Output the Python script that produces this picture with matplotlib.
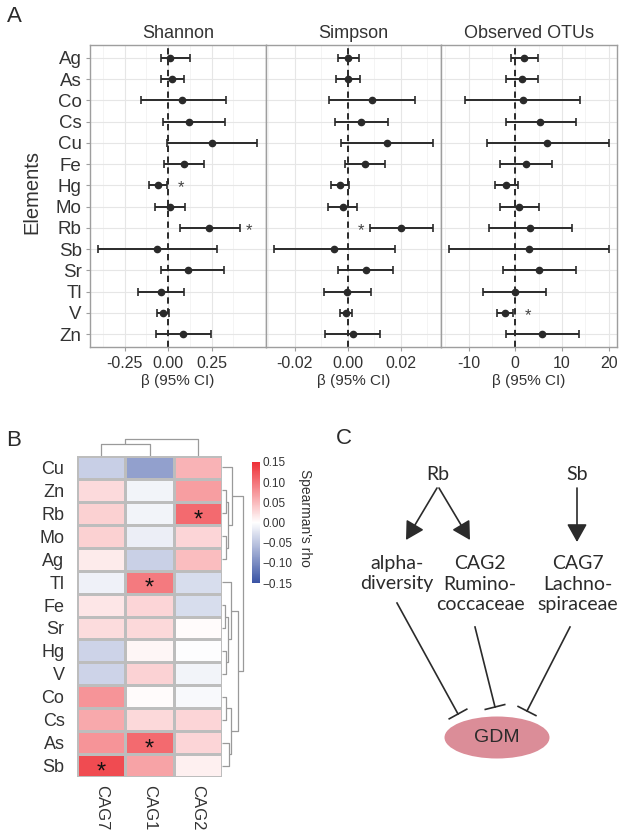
import numpy as np
import matplotlib
matplotlib.use('Agg')
import matplotlib.pyplot as plt
from matplotlib.colors import LinearSegmentedColormap
from matplotlib.patches import Ellipse

plt.rcParams['font.family'] = ['Liberation Sans', 'DejaVu Sans']

# ---------------- data: panel A (regression estimates) ----------------
elements = ['Ag', 'As', 'Co', 'Cs', 'Cu', 'Fe', 'Hg', 'Mo', 'Rb', 'Sb', 'Sr', 'Tl', 'V', 'Zn']

shannon_est = [0.010, 0.023, 0.082, 0.120, 0.254, 0.092, -0.059, 0.008, 0.237, -0.063, 0.114, -0.040, -0.029, 0.086]
shannon_lo = [-0.044, -0.044, -0.158, -0.032, -0.006, -0.023, -0.111, -0.074, 0.069, -0.406, -0.044, -0.172, -0.065, -0.073]
shannon_hi = [0.124, 0.090, 0.330, 0.326, 0.511, 0.206, -0.004, 0.095, 0.414, 0.280, 0.324, 0.092, 0.004, 0.244]

simpson_est = [0.0000, 0.0000, 0.0091, 0.0050, 0.0148, 0.0065, -0.0030, -0.0020, 0.0201, -0.0052, 0.0068, -0.0003, -0.0008, 0.0018]
simpson_lo = [-0.0038, -0.0043, -0.0072, -0.0050, -0.0025, -0.0011, -0.0063, -0.0074, 0.0083, -0.0280, -0.0036, -0.0090, -0.0030, -0.0088]
simpson_hi = [0.0042, 0.0047, 0.0255, 0.0152, 0.0323, 0.0142, 0.0003, 0.0036, 0.0320, 0.0179, 0.0172, 0.0086, 0.0015, 0.0123]

otus_est = [1.9, 1.4, 1.6, 5.4, 6.9, 2.3, -1.9, 0.9, 3.1, 2.9, 5.1, -0.1, -2.1, 5.7]
otus_lo = [-1.0, -1.9, -10.7, -2.0, -6.0, -3.3, -4.4, -3.3, -5.7, -14.2, -2.6, -6.8, -3.9, -2.0]
otus_hi = [4.9, 4.9, 13.9, 13.0, 20.0, 7.9, 0.6, 5.1, 12.1, 20.1, 13.0, 6.5, -0.5, 13.6]

# significance stars (element, x position)
shannon_stars = [('Hg', 0.076), ('Rb', 0.467)]
simpson_stars = [('Rb', 0.005)]
otus_stars = [('V', 2.7)]

# ---------------- data: panel B (Spearman heatmap) ----------------
heat_rows = ['Cu', 'Zn', 'Rb', 'Mo', 'Ag', 'Tl', 'Fe', 'Sr', 'Hg', 'V', 'Co', 'Cs', 'As', 'Sb']
heat_cols = ['CAG7', 'CAG1', 'CAG2']
rho = np.array([
    [-0.042, -0.083, 0.055],
    [0.026, -0.010, 0.070],
    [0.033, -0.010, 0.107],
    [0.033, -0.015, 0.030],
    [0.015, -0.040, 0.048],
    [-0.012, 0.095, -0.030],
    [0.018, 0.030, -0.030],
    [0.025, 0.027, 0.003],
    [-0.038, 0.007, -0.002],
    [-0.038, 0.032, -0.010],
    [0.077, 0.003, -0.005],
    [0.062, 0.027, 0.030],
    [0.077, 0.107, 0.030],
    [0.130, 0.066, 0.011],
])
heat_stars = [('Rb', 'CAG2'), ('Tl', 'CAG1'), ('As', 'CAG1'), ('Sb', 'CAG7')]

# dendrogram merges (left id, right id, height); leaves are in display order
row_merges = [(1, 2, 4), (3, 4, 4), (14, 15, 6), (0, 16, 10),
              (6, 7, 3), (8, 9, 4), (18, 19, 6), (5, 20, 9),
              (10, 11, 4), (12, 13, 7), (22, 23, 9),
              (21, 24, 16), (17, 25, 21)]
col_merges = [(0, 1, 12), (3, 2, 17)]

W, H = 620, 836
fig = plt.figure(figsize=(W / 100, H / 100), dpi=100)
txt = '#333333'
grey = '#9E9E9E'


def rect(x0, y0, x1, y1):
    return [x0 / W, 1 - y1 / H, (x1 - x0) / W, (y1 - y0) / H]


# background axes in pixel units for panel C and labels
axc = fig.add_axes([0, 0, 1, 1])
axc.set_xlim(0, W)
axc.set_ylim(H, 0)
axc.axis('off')

# ---------------- panel A ----------------
panels = [
    ('Shannon', shannon_est, shannon_lo, shannon_hi, shannon_stars, (-0.45, 0.56),
     [-0.25, 0, 0.25], ['-0.25', '0.00', '0.25'], [-0.375, -0.125, 0.125, 0.375]),
    ('Simpson', simpson_est, simpson_lo, simpson_hi, simpson_stars, (-0.0311, 0.0352),
     [-0.02, 0, 0.02], ['-0.02', '0.00', '0.02'], [-0.03, -0.01, 0.01, 0.03]),
    ('Observed OTUs', otus_est, otus_lo, otus_hi, otus_stars, (-15.9, 21.7),
     [-10, 0, 10, 20], ['-10', '0', '10', '20'], [-15, -5, 5, 15]),
]
lefts = [90, 265.5, 441]
ypos = np.arange(len(elements))
for i, (title, est, lo, hi, stars, xl, ticks, labels, minors) in enumerate(panels):
    ax = fig.add_axes(rect(lefts[i], 45, lefts[i] + 175.5, 347))
    est = np.array(est); lo = np.array(lo); hi = np.array(hi)
    ax.set_xlim(*xl)
    ax.set_ylim(len(elements) - 0.4, -0.6)
    ax.set_xticks(ticks)
    ax.set_xticklabels(labels)
    ax.set_xticks(minors, minor=True)
    ax.set_yticks(ypos)
    ax.set_yticklabels(elements)
    ax.grid(which='major', color='#E6E6E6', lw=0.8)
    ax.grid(which='minor', axis='x', color='#F0F0F0', lw=0.5)
    ax.set_axisbelow(True)
    ax.axvline(0, color='#1a1a1a', ls=(0, (3.5, 2.5)), lw=1.3, zorder=2)
    ax.errorbar(est, ypos, xerr=[est - lo, hi - est], fmt='o', color='#2a2a2a',
                ms=4.5, capsize=3, elinewidth=1.4, capthick=1.2, zorder=3)
    for el, sx in stars:
        ax.text(sx, elements.index(el) + 0.12, '*', ha='center', va='center',
                fontsize=12, color='#444444')
    for s in ax.spines.values():
        s.set_color(grey)
        s.set_linewidth(1.0)
    ax.tick_params(which='major', colors=grey, length=3, labelcolor=txt, labelsize=11.5)
    ax.tick_params(which='minor', length=0)
    ax.tick_params(axis='y', labelsize=13.5, pad=3)
    if i > 0:
        ax.tick_params(axis='y', left=False, labelleft=False)
    ax.set_title(title, fontsize=13, color=txt, pad=5)
    ax.set_xlabel('\u03b2 (95% CI)', fontsize=11, color=txt, labelpad=2)

fig.text(32 / W, 1 - 192 / H, 'Elements', rotation=90, ha='center', va='center',
         fontsize=14.5, color=txt)

# ---------------- panel B ----------------
cmap = LinearSegmentedColormap.from_list('bwr2', ['#3953A4', '#FFFFFF', '#EE2F36'])
axh = fig.add_axes(rect(77, 456, 222, 777))
mesh = axh.pcolormesh(np.arange(len(heat_cols) + 1), np.arange(len(heat_rows) + 1), rho,
                      cmap=cmap, vmin=-0.15, vmax=0.15, edgecolors='#BDBDBD', linewidth=0.8)
axh.set_xlim(0, len(heat_cols))
axh.set_ylim(len(heat_rows), 0)
axh.set_yticks(np.arange(len(heat_rows)) + 0.5)
axh.set_yticklabels(heat_rows)
axh.set_xticks(np.arange(len(heat_cols)) + 0.5)
axh.set_xticklabels(heat_cols, rotation=270)
axh.tick_params(length=0, labelsize=13, labelcolor=txt, pad=9)
axh.tick_params(axis='x', labelsize=12, pad=6)
for s in axh.spines.values():
    s.set_visible(False)
for r, c in heat_stars:
    axh.text(heat_cols.index(c) + 0.5, heat_rows.index(r) + 0.8, '*', ha='center', va='center',
             fontsize=17, color='#111111')


def dendro(ax, merges, n, horizontal):
    pos = {k: k + 0.5 for k in range(n)}
    hgt = {k: 0 for k in range(n)}
    for j, (a, b, h) in enumerate(merges):
        xs = [pos[a], pos[a], pos[b], pos[b]]
        hs = [hgt[a], h, h, hgt[b]]
        if horizontal:
            ax.plot(hs, xs, color='#9A9A9A', lw=0.9, solid_capstyle='butt')
        else:
            ax.plot(xs, hs, color='#9A9A9A', lw=0.9, solid_capstyle='butt')
        pos[n + j] = (pos[a] + pos[b]) / 2
        hgt[n + j] = h


axr = fig.add_axes(rect(222, 456, 245, 777))
dendro(axr, row_merges, len(heat_rows), True)
axr.set_xlim(0, 23)
axr.set_ylim(len(heat_rows), 0)
axr.axis('off')

axd = fig.add_axes(rect(77, 436, 222, 456))
dendro(axd, col_merges, len(heat_cols), False)
axd.set_xlim(0, len(heat_cols))
axd.set_ylim(0, 20)
axd.axis('off')

cax = fig.add_axes(rect(252, 462, 260, 583))
cb = fig.colorbar(mesh, cax=cax)
cb.outline.set_visible(False)
cb_ticks = [-0.15, -0.10, -0.05, 0.0, 0.05, 0.10, 0.15]
cb.set_ticks(cb_ticks)
cb.set_ticklabels([('%.2f' % t).replace('-', '\u2212') for t in cb_ticks])
cb.ax.tick_params(length=0, labelsize=8.5, labelcolor=txt, pad=2)
fig.text(305 / W, 1 - 518 / H, "Spearman's rho", rotation=270, ha='center', va='center',
         fontsize=10, color=txt)

# ---------------- panel C ----------------
dark = '#2b2b2b'
fc = ['Lato', 'DejaVu Sans']
axc.text(438, 475, 'Rb', ha='center', va='center', fontsize=14, color=dark, family=fc)
axc.text(577, 475, 'Sb', ha='center', va='center', fontsize=14, color=dark, family=fc)
arrows = [((437, 488), (406, 540)), ((439, 488), (470, 540)), ((577, 488), (577, 542))]
for start, tip in arrows:
    axc.annotate('', xy=tip, xytext=start,
                 arrowprops=dict(arrowstyle='-|>,head_length=0.5,head_width=0.28', color=dark,
                                 lw=1.2, mutation_scale=22, shrinkA=0, shrinkB=0))
nodes = [(397, 'alpha-\ndiversity'), (480, 'CAG2\nRumino-\ncoccaceae'), (578, 'CAG7\nLachno-\nspiraceae')]
for x, s in nodes:
    axc.text(x, 555, s, ha='center', va='top', fontsize=14, color=dark, family=fc,
             linespacing=1.25)

inhib = [((397, 603), (458, 714)), ((475, 627), (495, 707)), ((570, 627), (527, 711))]
for (x0, y0), (x1, y1) in inhib:
    axc.plot([x0, x1], [y0, y1], color=dark, lw=1.2)
    d = np.array([x1 - x0, y1 - y0], dtype=float)
    d /= np.hypot(*d)
    p = np.array([-d[1], d[0]]) * 10
    axc.plot([x1 - p[0], x1 + p[0]], [y1 - p[1], y1 + p[1]], color=dark, lw=1.2)

axc.add_patch(Ellipse((497, 737.5), 105, 42, facecolor='#DB8D98', edgecolor='none'))
axc.text(497, 738, 'GDM', ha='center', va='center', fontsize=14, color=dark)

for lab, x, y in [('A', 14, 16), ('B', 14, 440), ('C', 344, 438)]:
    axc.text(x, y, lab, ha='center', va='center', fontsize=16, color=dark)

fig.savefig('out.png', dpi=100)
